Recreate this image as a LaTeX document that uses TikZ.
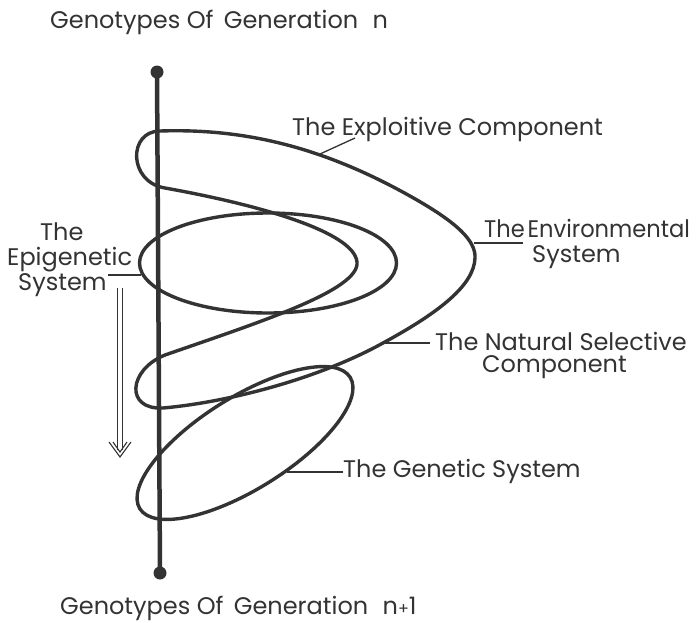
\documentclass[tikz,border=0pt]{standalone}
\usepackage{fontspec}
\usepackage{graphicx}
\setmainfont{Poppins}
\usetikzlibrary{shapes.geometric}
\definecolor{ink}{HTML}{333333}
\begin{document}
\begin{tikzpicture}[x=1pt,y=-1pt,
  curve/.style={draw=ink, line width=3.4pt},
  lab/.style={font=\fontsize{24}{28}\selectfont, text=ink, inner sep=0pt, anchor=base west},
  leader/.style={draw=ink, line width=1.3pt},
  dot/.style={circle, fill=ink, minimum size=13pt, inner sep=0pt}]
\useasboundingbox[fill=white] (0,0) rectangle (698,622);
% axis
\node[dot] (top) at (157,72) {};
\node[dot] (bot) at (160,573) {};
\draw[ink, line width=4.5pt] (top.center) -- (bot.center);
% main closed curve (exploitive / natural selective band)
\draw[curve, line join=round]
  (160,131) .. controls (250,128) and (330,150) .. (417,200)
  .. controls (455,222) and (476,240) .. (475,258)
  .. controls (474,285) and (440,312) .. (383,343)
  .. controls (320,378) and (230,402) .. (163,408)
  .. controls (125,410) and (128,370) .. (165,355)
  .. controls (260,322) and (360,290) .. (357,262)
  .. controls (354,232) and (260,205) .. (165,188)
  .. controls (128,182) and (128,131) .. cycle;
% epigenetic ellipse
\node[curve, ellipse, minimum width=257pt, minimum height=100pt, inner sep=0pt] (epi) at (268,263) {};
% genetic ellipse
\node[curve, ellipse, rotate=32, minimum width=248pt, minimum height=92pt, inner sep=0pt] (gen) at (245,443) {};
% labels
\node[lab] (title) at (50,28) {Genotypes Of\, Generation\,\, n};
\node[lab] (title2) at (60,614) {Genotypes Of\, Generation\,\, n{\fontsize{16}{16}\selectfont+}1};
\node[lab] (texpl) at (292,135) {The Exploitive Component};
\node[lab] (tenv1) at (484,237) {\scalebox{0.94}[1]{The\kern3pt Environmental}};
\node[lab] (tenv2) at (532,262) {System};
\node[lab] (tnat1) at (435,350) {The Natural Selective};
\node[lab] (tnat2) at (482,372) {Component};
\node[lab] (tgen) at (343,477) {The Genetic System};
\node[lab] (tepi1) at (40,240) {The};
\node[lab] (tepi2) at (7,265) {Epigenetic};
\node[lab] (tepi3) at (18,290) {System};
% leader points
\coordinate (pExpl) at (320,154);
\coordinate (qExpl) at (355,138);
\coordinate (pEnv) at (474,243);
\coordinate (qEnv) at (523,243);
\coordinate (pNat) at (383,343);
\coordinate (qNat) at (430,343);
\coordinate (pGen) at (287,472);
\coordinate (pEpi) at (141,275);
\coordinate (qEpi) at (108,275);
\draw[leader] (pExpl) -- (qExpl);
\draw[leader] (pEnv) -- (qEnv);
\draw[leader] (pNat) -- (qNat);
\draw[leader] (pGen) -- (tgen.west |- pGen);
\draw[leader] (pEpi) -- (qEpi);
% double arrow
\coordinate (aT) at (120,457);
\draw[ink, line width=1.1pt] (117.5,288) -- (117.5,450) (122.5,288) -- (122.5,450);
\draw[ink, line width=1.1pt] (109,442) -- (aT) -- (131,442);
\draw[ink, line width=1.1pt] (113,442) -- (120,452) -- (127,442);
\end{tikzpicture}
\end{document}
